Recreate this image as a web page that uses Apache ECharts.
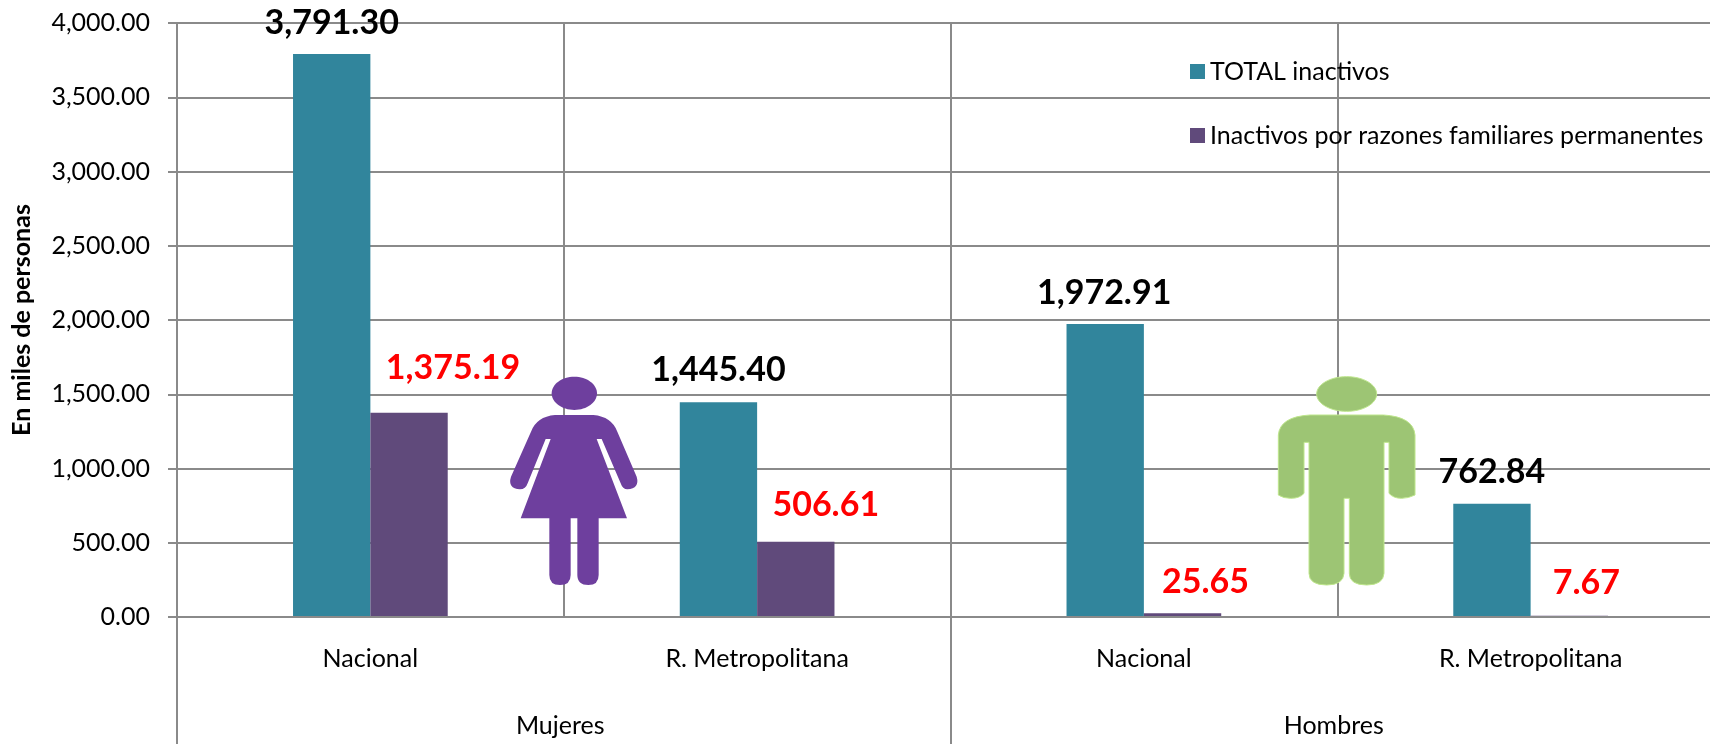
<!DOCTYPE html>
<html>
<head>
<meta charset="utf-8">
<style>
html, body { margin: 0; padding: 0; background: #fff; }
#chart { width: 1710px; height: 744px; }
</style>
<script src="https://cdn.jsdelivr.net/npm/echarts@6/dist/echarts.min.js"></script>
</head>
<body>
<div id="chart"></div>
<script>
// datos
const regiones = ['Nacional', 'R. Metropolitana', 'Nacional', 'R. Metropolitana'];
const sexos = ['Mujeres', 'Hombres'];
const totalInactivos = [3791.30, 1445.40, 1972.91, 762.84];
const razonesFamiliares = [1375.19, 506.61, 25.65, 7.67];

// desplazamiento de las etiquetas, van sueltas como en el original
const offsetTotal = [[0, -9], [0, -10], [-1, -9], [0, -10]];
const offsetFamiliares = [[44, -23], [30, -15], [23, -9], [17, -11]];

const fuente = 'Lato';
const gris = '#8a8a8a';

function fmt(v) {
    return v.toLocaleString('en-US', { minimumFractionDigits: 2, maximumFractionDigits: 2 });
}

function puntos(valores, offsets) {
    return valores.map((v, i) => ({ value: v, label: { offset: offsets[i] } }));
}

const mujer = 'M225 165 L340 165 Q395 170 412 215 L470 350 Q480 385 442 388 Q428 388 422 370 L365 237 L350 237 ' +
    'L441 475 L356 475 L356 645 Q356 675 325 675 Q292 675 292 645 L292 475 L272 475 L272 645 Q272 675 240 675 ' +
    'Q208 675 208 645 L208 475 L122 475 L212 237 L197 237 L143 370 Q137 388 120 388 Q82 385 93 350 L153 215 Q170 170 225 165 Z';
const hombre = 'M180 165 L400 165 Q490 170 495 225 L495 405 Q475 415 455 415 Q430 415 417 400 L417 247 L402 247 ' +
    'L402 640 Q400 675 350 675 Q298 675 298 640 L298 415 L282 415 L282 640 Q280 675 230 675 Q177 675 177 640 ' +
    'L177 247 L162 247 L162 400 Q150 415 122 415 Q100 415 85 405 L85 225 Q90 170 180 165 Z';

echarts.graphic.registerShape('mujer', echarts.graphic.extendPath(mujer));
echarts.graphic.registerShape('hombre', echarts.graphic.extendPath(hombre));

const chart = echarts.init(document.getElementById('chart'));

chart.setOption({
    animation: false,
    backgroundColor: '#fff',
    textStyle: { fontFamily: fuente },
    grid: { left: 177, top: 23, width: 1547, height: 594, outerBoundsMode: 'none' },
    legend: {
        orient: 'vertical',
        left: 1190,
        top: 59,
        padding: 0,
        itemWidth: 15,
        itemHeight: 15,
        itemGap: 39,
        icon: 'rect',
        textStyle: { fontFamily: fuente, fontSize: 25, color: '#000' },
        data: ['TOTAL inactivos', 'Inactivos por razones familiares permanentes']
    },
    xAxis: [
        {
            type: 'category',
            z: 3,
            data: regiones,
            axisLine: { show: true, lineStyle: { color: gris, width: 2 } },
            axisTick: { show: false },
            axisLabel: { interval: 0, margin: 29, fontSize: 25, color: '#000', fontFamily: fuente },
            splitLine: { show: true, interval: 0, lineStyle: { color: gris, width: 2 } }
        },
        {
            type: 'category',
            position: 'bottom',
            data: sexos,
            axisLine: { show: false },
            axisTick: { show: true, length: 127, lineStyle: { color: gris, width: 2 } },
            axisLabel: { interval: 0, margin: 96, padding: [0, 7, 0, 0], fontSize: 25, color: '#000', fontFamily: fuente },
            splitLine: { show: false }
        }
    ],
    yAxis: {
        type: 'value',
        min: 0,
        max: 4000,
        interval: 500,
        name: 'En miles de personas',
        nameLocation: 'middle',
        nameGap: 143,
        nameTextStyle: { fontWeight: 'bold', fontSize: 25, color: '#000', fontFamily: fuente },
        axisLine: { show: true, lineStyle: { color: gris, width: 2 } },
        axisTick: { show: true, length: 9, lineStyle: { color: gris, width: 2 } },
        axisLabel: { margin: 27, fontSize: 25, color: '#000', fontFamily: fuente, formatter: fmt },
        splitLine: { show: true, lineStyle: { color: gris, width: 2 } }
    },
    series: [
        {
            name: 'TOTAL inactivos',
            type: 'bar',
            barWidth: '20%',
            barGap: 0,
            itemStyle: { color: '#31859C' },
            label: {
                show: true,
                position: 'top',
                fontSize: 34,
                fontWeight: 'bold',
                color: '#000',
                fontFamily: fuente,
                formatter: p => fmt(p.value)
            },
            data: puntos(totalInactivos, offsetTotal)
        },
        {
            name: 'Inactivos por razones familiares permanentes',
            type: 'bar',
            barWidth: '20%',
            barGap: 0,
            itemStyle: { color: '#604A7B' },
            label: {
                show: true,
                position: 'top',
                fontSize: 34,
                fontWeight: 'bold',
                color: '#FF0000',
                fontFamily: fuente,
                formatter: p => fmt(p.value)
            },
            data: puntos(razonesFamiliares, offsetFamiliares)
        }
    ],
    // las figuras de mujer y hombre, trazadas a 3x y reducidas
    graphic: [
        {
            type: 'group',
            x: 480, y: 360, scaleX: 1 / 3, scaleY: 1 / 3,
            children: [
                { type: 'ellipse', z: 20, shape: { cx: 283, cy: 100, rx: 68, ry: 50 }, style: { fill: '#6E3F9E' } },
                { type: 'mujer', z: 20, style: { fill: '#6E3F9E' } }
            ]
        },
        {
            type: 'group',
            x: 1250, y: 360, scaleX: 1 / 3, scaleY: 1 / 3,
            children: [
                { type: 'ellipse', z: 20, shape: { cx: 290, cy: 102, rx: 90, ry: 52 }, style: { fill: '#9DC574', stroke: '#BEE68C', lineWidth: 3 } },
                { type: 'hombre', z: 20, style: { fill: '#9DC574', stroke: '#BEE68C', lineWidth: 3 } }
            ]
        }
    ]
});
</script>
</body>
</html>
